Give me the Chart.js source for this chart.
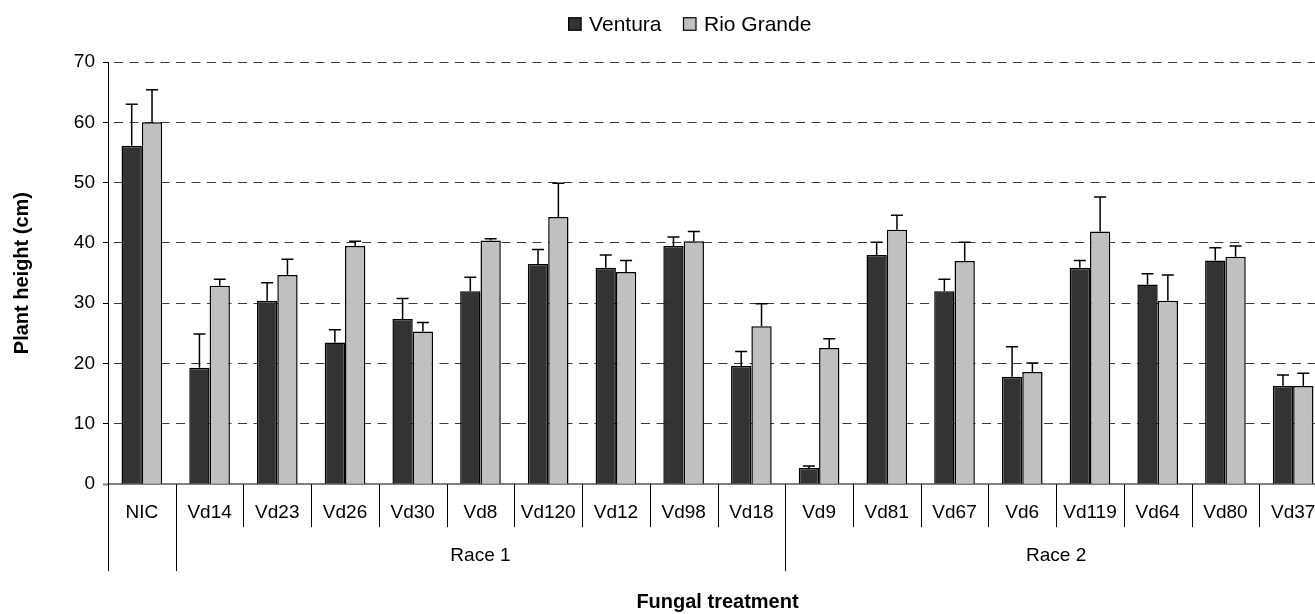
<!DOCTYPE html>
<html>
<head>
<meta charset="utf-8">
<title>Plant height by fungal treatment</title>
<script src="https://cdn.jsdelivr.net/npm/chart.js@4/dist/chart.umd.min.js"></script>
<style>
  html, body { margin: 0; padding: 0; background: #ffffff; overflow: hidden; }
  #wrap { width: 1315px; height: 614px; overflow: hidden; position: relative; }
  canvas { display: block; }
</style>
</head>
<body>
<div id="wrap"><canvas id="chart" width="1340" height="614"></canvas></div>
<script>
// Treatments (x categories)
const categories = ['NIC', 'Vd14', 'Vd23', 'Vd26', 'Vd30', 'Vd8', 'Vd120', 'Vd12', 'Vd98', 'Vd18',
                    'Vd9', 'Vd81', 'Vd67', 'Vd6', 'Vd119', 'Vd64', 'Vd80', 'Vd37'];

// Mean plant height (cm) and upper error (cm) per cultivar
const ventura      = [56.1, 19.3, 30.4, 23.5, 27.4, 32.0, 36.5, 35.9, 39.5, 19.6,  2.7, 38.0, 32.0, 17.8, 35.9, 33.1, 37.1, 16.3];
const venturaErr   = [ 6.9,  5.6,  3.0,  2.1,  3.4,  2.3,  2.4,  2.1,  1.5,  2.4,  0.3,  2.1,  2.0,  5.0,  1.2,  1.8,  2.1,  1.8];
const rioGrande    = [60.0, 32.9, 34.7, 39.5, 25.3, 40.4, 44.3, 35.2, 40.3, 26.2, 22.6, 42.2, 37.0, 18.6, 41.9, 30.4, 37.7, 16.3];
const rioGrandeErr = [ 5.4,  1.1,  2.6,  0.8,  1.5,  0.3,  5.6,  1.9,  1.6,  3.7,  1.5,  2.4,  3.1,  1.5,  5.7,  4.3,  1.8,  2.1];

// Treatment blocks shown on the second row of the x axis
const blockLabels = ['', 'Race 1', 'Race 2'];
const blockFirst  = [0, 1, 10];
const blockLast   = [0, 9, 17];

// Y axis range
const yMin = 0, yMax = 70, yStep = 10;

const FONT = '"Liberation Sans", Arial, Helvetica, sans-serif';
Chart.defaults.font.family = FONT;
Chart.defaults.color = '#000000';

// Upward error bars with caps
const errorBars = {
  id: 'errorBars',
  afterDatasetsDraw(chart) {
    const ctx = chart.ctx;
    const y = chart.scales.y;
    chart.data.datasets.forEach((ds, i) => {
      const meta = chart.getDatasetMeta(i);
      meta.data.forEach((bar, j) => {
        const top = y.getPixelForValue(ds.data[j] + ds.errors[j]);
        ctx.save();
        ctx.strokeStyle = '#000000';
        ctx.lineWidth = 1.5;
        ctx.beginPath();
        ctx.moveTo(bar.x, bar.y);
        ctx.lineTo(bar.x, top);
        ctx.moveTo(bar.x - 6, top);
        ctx.lineTo(bar.x + 6, top);
        ctx.stroke();
        ctx.restore();
      });
    });
  }
};

// Category separators and block labels under the x axis
const axisBlocks = {
  id: 'axisBlocks',
  afterDraw(chart) {
    const ctx = chart.ctx;
    const x = chart.scales.x;
    const base = chart.chartArea.bottom;
    const longEdges = new Set();
    blockFirst.forEach((f, k) => { longEdges.add(f - 0.5); longEdges.add(blockLast[k] + 0.5); });
    ctx.save();
    ctx.strokeStyle = '#000000';
    ctx.lineWidth = 1;
    for (let b = -0.5; b <= categories.length - 0.5; b += 1) {
      const px = Math.round(x.getPixelForValue(b)) + 0.5;
      const end = longEdges.has(b) ? base + 87 : base + 43;
      ctx.beginPath();
      ctx.moveTo(px, base);
      ctx.lineTo(px, end);
      ctx.stroke();
    }
    ctx.fillStyle = '#000000';
    ctx.font = '19px ' + FONT;
    ctx.textAlign = 'center';
    ctx.textBaseline = 'middle';
    blockLabels.forEach((lab, k) => {
      if (!lab) return;
      const cx = (x.getPixelForValue(blockFirst[k] - 0.5) + x.getPixelForValue(blockLast[k] + 0.5)) / 2;
      ctx.fillText(lab, cx, base + 72);
    });
    ctx.restore();
  }
};

// Legend row at the top
const topLegend = {
  id: 'topLegend',
  afterDraw(chart) {
    const ctx = chart.ctx;
    const box = 12.5, gap = 8, itemGap = 22, cx = 690, cy = 24;
    ctx.save();
    ctx.font = '21px ' + FONT;
    const items = chart.data.datasets.map(ds => ({
      label: ds.label, fill: ds.backgroundColor, w: ctx.measureText(ds.label).width
    }));
    const total = items.reduce((s, it) => s + box + gap + it.w, 0) + itemGap * (items.length - 1);
    let px = cx - total / 2;
    ctx.textBaseline = 'middle';
    ctx.textAlign = 'left';
    items.forEach(it => {
      ctx.fillStyle = it.fill;
      ctx.fillRect(px, cy - box / 2, box, box);
      ctx.strokeStyle = '#000000';
      ctx.lineWidth = 1.2;
      ctx.strokeRect(px, cy - box / 2, box, box);
      ctx.fillStyle = '#000000';
      ctx.fillText(it.label, px + box + gap, cy + 1);
      px += box + gap + it.w + itemGap;
    });
    ctx.restore();
  }
};

new Chart(document.getElementById('chart'), {
  type: 'bar',
  data: {
    labels: categories,
    datasets: [
      { label: 'Ventura', data: ventura, errors: venturaErr,
        backgroundColor: '#333333', borderColor: '#000000', borderWidth: 1.5,
        barPercentage: 1.0, categoryPercentage: 0.6 },
      { label: 'Rio Grande', data: rioGrande, errors: rioGrandeErr,
        backgroundColor: '#c0c0c0', borderColor: '#000000', borderWidth: 1.5,
        barPercentage: 1.0, categoryPercentage: 0.6 }
    ]
  },
  options: {
    responsive: false,
    animation: false,
    events: [],
    layout: { padding: { top: 62, right: 13, bottom: 0, left: 0 } },
    plugins: {
      legend: { display: false },
      tooltip: { enabled: false }
    },
    scales: {
      x: {
        grid: { display: false, offset: true },
        border: { display: true, color: '#808080', width: 2 },
        ticks: { padding: 9, color: '#000000', font: { size: 19 }, maxRotation: 0, autoSkip: false },
        title: { display: true, text: 'Fungal treatment', color: '#000000',
                 font: { size: 20, weight: 'bold' }, padding: { top: 57, bottom: 0 } }
      },
      y: {
        min: yMin, max: yMax,
        afterFit(scale) { scale.width = 108; },
        ticks: { stepSize: yStep, padding: 8, color: '#000000', font: { size: 19 } },
        grid: {
          color: c => (c.tick && c.tick.value === 0) ? 'rgba(0,0,0,0)' : '#3a3a3a',
          lineWidth: 1,
          tickLength: 5,
          tickColor: c => (c.tick && c.tick.value === 0) ? '#808080' : '#000000',
          tickWidth: c => (c.tick && c.tick.value === 0) ? 2 : 1
        },
        border: { display: true, color: '#000000', width: 1, dash: [9, 6.5], dashOffset: 10.5 },
        title: { display: true, text: 'Plant height (cm)', color: '#000000',
                 font: { size: 20, weight: 'bold' }, padding: { top: 10, bottom: 0 } }
      }
    }
  },
  plugins: [errorBars, axisBlocks, topLegend]
});
</script>
</body>
</html>
